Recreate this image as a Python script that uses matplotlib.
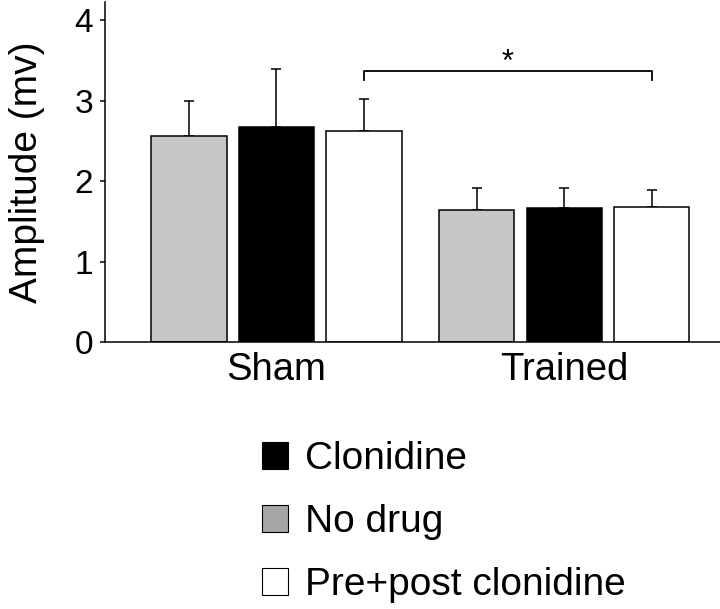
import numpy as np
import matplotlib
matplotlib.use('Agg')
import matplotlib.pyplot as plt
from matplotlib.patches import Patch

plt.rcParams['font.family'] = ['Liberation Sans', 'DejaVu Sans']

groups = ['Sham', 'Trained']
series = ['No drug', 'Clonidine', 'Pre+post clonidine']
means = {
    'No drug': [2.56, 1.64],
    'Clonidine': [2.67, 1.66],
    'Pre+post clonidine': [2.62, 1.68],
}
sem = {
    'No drug': [0.43, 0.27],
    'Clonidine': [0.72, 0.25],
    'Pre+post clonidine': [0.40, 0.21],
}
colors = {'No drug': '#c6c6c6', 'Clonidine': 'black', 'Pre+post clonidine': 'white'}
legend_order = ['Clonidine', 'No drug', 'Pre+post clonidine']
legend_colors = {'Clonidine': 'black', 'No drug': '#a6a6a6', 'Pre+post clonidine': 'white'}

fig = plt.figure(figsize=(7.2, 6.09), dpi=100)
ax = fig.add_axes([0.1458, 0.4384, 0.8542, 0.5578])

group_x = np.array([0.0, 3.29])
offsets = [-1.0, 0.0, 1.0]
width = 0.86

for off, name in zip(offsets, series):
    xs = group_x + off
    ax.bar(xs, means[name], width, color=colors[name], edgecolor='black', linewidth=1.1, zorder=2)
    ax.errorbar(xs, means[name], yerr=[np.zeros(2), sem[name]], fmt='none',
                ecolor='black', elinewidth=1.1, capsize=3.6, capthick=1.1, zorder=1)

# significance bracket between pre+post bars
x1, x2 = group_x[0] + offsets[2], group_x[1] + offsets[2]
yb, tip = 3.37, 3.25
ax.plot([x1, x1, x2, x2], [tip, yb, yb, tip], color='black', lw=1.3, clip_on=False)
ax.text((x1 + x2) / 2, 3.47, '*', ha='center', va='center', fontsize=22)

ax.set_ylim(0, 4.22)
ax.set_xlim(-1.96, 5.07)
ax.set_yticks([0, 1, 2, 3, 4])
ax.set_xticks(group_x)
ax.set_xticklabels(groups)
ax.tick_params(axis='y', labelsize=24, length=3.6, width=1.1, pad=5)
ax.tick_params(axis='x', labelsize=27.5, length=0, pad=7)
ax.set_ylabel('Amplitude (mv)', fontsize=28, labelpad=21)
for s in ['top', 'right']:
    ax.spines[s].set_visible(False)
for s in ['left', 'bottom']:
    ax.spines[s].set_linewidth(1.1)

handles = [Patch(facecolor=legend_colors[n], edgecolor='black', linewidth=0.8) for n in legend_order]
fig.legend(handles, legend_order, loc='upper left', bbox_to_anchor=(0.364, 0.276),
           frameon=False, fontsize=28, handlelength=0.67, handleheight=0.67,
           handletextpad=0.44, labelspacing=0.70, borderpad=0, borderaxespad=0)

fig.savefig('out.png', dpi=100)
